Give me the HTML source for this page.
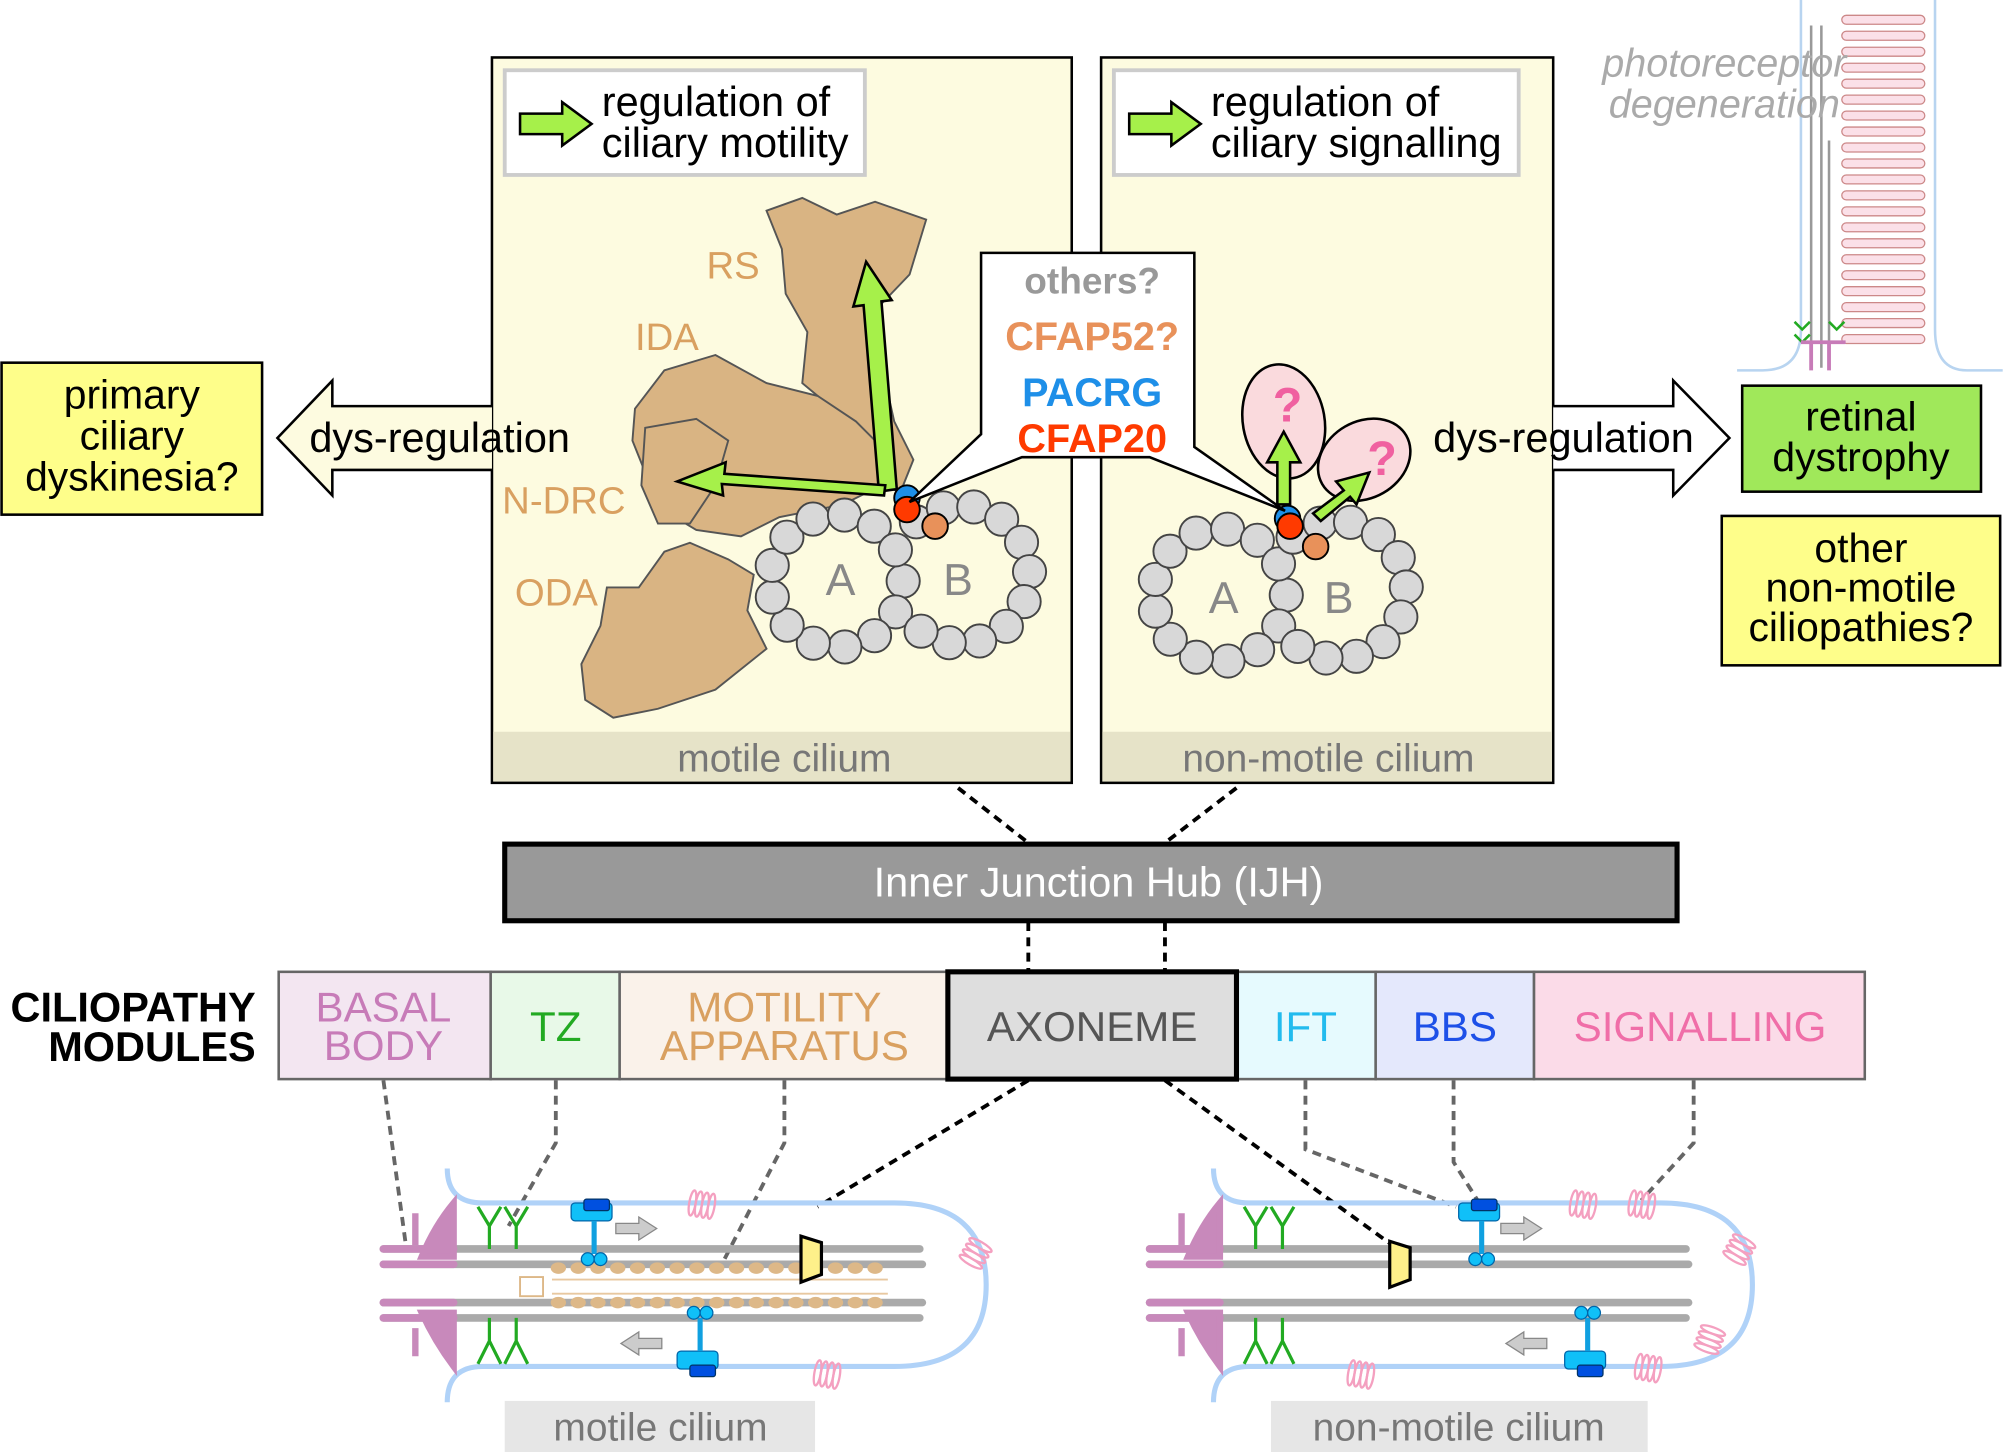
<!DOCTYPE html>
<html><head><meta charset="utf-8">
<style>
html,body{margin:0;padding:0;background:#fff;}
svg{display:block;font-family:"Liberation Sans",sans-serif;}
</style></head>
<body>
<svg id="s" width="2003" height="1452" viewBox="0 0 1568 1137" xmlns="http://www.w3.org/2000/svg">
<!-- photoreceptor -->
<g>
<path d="M1410,0 L1410,258 Q1410,290 1380,290 L1360,290 M1515,0 L1515,258 Q1515,290 1540,290 L1568,290" fill="none" stroke="#b8d4f0" stroke-width="2"/>
<g id="discs"></g>
<line x1="1418" y1="20" x2="1418" y2="288" stroke="#999" stroke-width="2"/>
<line x1="1426" y1="20" x2="1426" y2="288" stroke="#999" stroke-width="2"/>
<line x1="1432" y1="110" x2="1432" y2="288" stroke="#999" stroke-width="2"/>
<path d="M1405,252 l6,6 l6,-6 M1405,262 l6,6 l6,-6 M1432,252 l6,6 l6,-6" stroke="#2a2" stroke-width="2" fill="none"/>
<path d="M1410,268 L1445,268 M1418,268 L1418,290 M1432,268 L1432,290" stroke="#c77bb8" stroke-width="3"/>
<text x="1350" y="60" text-anchor="middle" font-size="31" font-style="italic" fill="#aaa">photoreceptor</text>
<text x="1350" y="92" text-anchor="middle" font-size="31" font-style="italic" fill="#aaa">degeneration</text>
</g>

<!-- left panel -->
<rect x="385" y="45" width="454" height="568" fill="#fdfbe0" stroke="#000" stroke-width="2"/>
<rect x="386" y="573" width="452" height="39" fill="#e6e3c8"/>
<text x="614" y="604" text-anchor="middle" font-size="30.5" fill="#777">motile cilium</text>
<rect x="395" y="55" width="282" height="82" fill="#fff" stroke="#ccc" stroke-width="3"/>
<path d="M407,89 L440,89 L440,80 L463,97 L440,114 L440,105 L407,105Z" fill="#a6f04a" stroke="#000" stroke-width="2"/>
<text x="471" y="91" font-size="32.5">regulation of</text>
<text x="471" y="123" font-size="32.5">ciliary motility</text>

<!-- right panel -->
<rect x="862" y="45" width="354" height="568" fill="#fdfbe0" stroke="#000" stroke-width="2"/>
<rect x="863" y="573" width="352" height="39" fill="#e6e3c8"/>
<text x="1040" y="604" text-anchor="middle" font-size="30.5" fill="#777">non-motile cilium</text>
<rect x="872" y="55" width="317" height="82" fill="#fff" stroke="#ccc" stroke-width="3"/>
<path d="M884,89 L917,89 L917,80 L940,97 L917,114 L917,105 L884,105Z" fill="#a6f04a" stroke="#000" stroke-width="2"/>
<text x="948" y="91" font-size="32.5">regulation of</text>
<text x="948" y="123" font-size="32.5">ciliary signalling</text>

<!-- dynein shapes -->
<g fill="#d9b483" stroke="#555" stroke-width="1.5">
<path d="M600,165 L628,155 L655,168 L685,158 L725,172 L712,215 L688,240 L690,285 L700,330 L715,360 L705,385 L680,378 L660,330 L640,310 L628,300 L632,260 L615,230 L612,195Z"/>
<path d="M497,320 L520,290 L560,278 L600,300 L640,310 L670,330 L690,350 L690,380 L660,395 L610,405 L580,420 L545,415 L520,400 L505,370 L495,345Z"/>
<path d="M505,335 L545,328 L570,345 L560,380 L540,410 L515,410 L502,380Z"/>
<path d="M520,432 L540,425 L570,438 L590,450 L585,478 L600,508 L560,540 L515,555 L480,562 L458,548 L455,520 L470,490 L475,460 L500,460Z"/>
</g>
<text x="553" y="218" font-size="30" fill="#d9a060">RS</text>
<text x="497" y="274" font-size="30" fill="#d9a060">IDA</text>
<text x="393" y="402" font-size="30" fill="#d9a060">N-DRC</text>
<text x="403" y="474" font-size="30" fill="#d9a060">ODA</text>

<g id="tubs"></g>
<text x="658" y="466" text-anchor="middle" font-size="35" fill="#888">A</text>
<text x="750" y="466" text-anchor="middle" font-size="35" fill="#888">B</text>
<text x="958" y="480" text-anchor="middle" font-size="35" fill="#888">A</text>
<text x="1048" y="480" text-anchor="middle" font-size="35" fill="#888">B</text>

<!-- green arrows left -->
<path d="M702,383 L690,236 L698,235 L678,205 L668,240 L676,239 L688,385Z" fill="#a6f04a" stroke="#000" stroke-width="2"/>
<path d="M692,388 L565,379 L566,388 L530,377 L568,362 L567,371 L693,380Z" fill="#a6f04a" stroke="#000" stroke-width="2"/>
<circle cx="710" cy="390" r="10" fill="#1e8fe8" stroke="#000" stroke-width="1.5"/>
<circle cx="710" cy="399" r="10" fill="#ff3a00" stroke="#000" stroke-width="1.5"/>
<circle cx="732" cy="412" r="10" fill="#e8915a" stroke="#000" stroke-width="1.5"/>

<!-- right pink -->
<ellipse cx="1005" cy="330" rx="32" ry="45" transform="rotate(-10 1005 330)" fill="#fadadd" stroke="#000" stroke-width="2"/>
<ellipse cx="1068" cy="360" rx="38" ry="30" transform="rotate(-30 1068 360)" fill="#fadadd" stroke="#000" stroke-width="2"/>
<text x="1008" y="330" text-anchor="middle" font-size="38" font-weight="bold" fill="#f060a0">?</text>
<text x="1082" y="372" text-anchor="middle" font-size="38" font-weight="bold" fill="#f060a0">?</text>
<path d="M1000,395 L1000,362 L992,362 L1005,338 L1018,362 L1010,362 L1010,395Z" fill="#a6f04a" stroke="#000" stroke-width="2"/>
<path d="M1028,402 L1052,384 L1046,377 L1072,370 L1062,395 L1057,389 L1034,408Z" fill="#a6f04a" stroke="#000" stroke-width="2"/>
<circle cx="1008" cy="406" r="10" fill="#1e8fe8" stroke="#000" stroke-width="1.5"/>
<circle cx="1010" cy="412" r="10" fill="#ff3a00" stroke="#000" stroke-width="1.5"/>
<circle cx="1030" cy="428" r="10" fill="#e8915a" stroke="#000" stroke-width="1.5"/>

<!-- callout -->
<polygon points="768,198 935,198 935,350 1006,400 900,358 800,358 712,393 768,340" fill="#fff" stroke="#000" stroke-width="2"/>
<text x="855" y="230" text-anchor="middle" font-size="29" font-weight="bold" fill="#999">others?</text>
<text x="855" y="274" text-anchor="middle" font-size="31" font-weight="bold" fill="#e8915a">CFAP52?</text>
<text x="855" y="318" text-anchor="middle" font-size="31" font-weight="bold" fill="#1e8fe8">PACRG</text>
<text x="855" y="354" text-anchor="middle" font-size="31" font-weight="bold" fill="#ff3a00">CFAP20</text>

<!-- hollow arrows -->
<path d="M385,318 L260,318 L260,298 L217,343 L260,388 L260,368 L385,368" fill="#fdfbe0" stroke="#000" stroke-width="2"/>
<text x="242" y="354" font-size="32.5">dys-regulation</text>
<path d="M1216,318 L1310,318 L1310,298 L1354,343 L1310,388 L1310,368 L1216,368" fill="#fff" stroke="#000" stroke-width="2"/>
<text x="1122" y="354" font-size="32.5">dys-regulation</text>

<rect x="1" y="284" width="204" height="119" fill="#fefe8a" stroke="#000" stroke-width="2"/>
<text x="103" y="320" text-anchor="middle" font-size="32">primary</text>
<text x="103" y="352" text-anchor="middle" font-size="32">ciliary</text>
<text x="103" y="384" text-anchor="middle" font-size="32">dyskinesia?</text>
<rect x="1364" y="302" width="187" height="83" fill="#a0e85a" stroke="#000" stroke-width="2"/>
<text x="1457" y="337" text-anchor="middle" font-size="32">retinal</text>
<text x="1457" y="369" text-anchor="middle" font-size="32">dystrophy</text>
<rect x="1348" y="404" width="218" height="117" fill="#fefe8a" stroke="#000" stroke-width="2"/>
<text x="1457" y="440" text-anchor="middle" font-size="32">other</text>
<text x="1457" y="471" text-anchor="middle" font-size="32">non-motile</text>
<text x="1457" y="502" text-anchor="middle" font-size="32">ciliopathies?</text>

<!-- IJH -->
<g stroke="#000" stroke-width="3" stroke-dasharray="7,5" fill="none">
<path d="M750,617 L805,660"/><path d="M968,617 L912,660"/>
<path d="M805,722 L805,761"/><path d="M912,722 L912,761"/>
<path d="M805,846 L640,945"/><path d="M912,846 L1090,975"/>
</g>
<rect x="395" y="661" width="918" height="60" fill="#999" stroke="#000" stroke-width="4"/>
<text x="860" y="702" text-anchor="middle" font-size="32.5" fill="#fff">Inner Junction Hub (IJH)</text>

<text x="200" y="800" text-anchor="end" font-size="32.5" font-weight="bold">CILIOPATHY</text>
<text x="200" y="831" text-anchor="end" font-size="32.5" font-weight="bold">MODULES</text>

<g stroke="#666" stroke-width="2">
<rect x="218" y="761" width="166" height="84" fill="#f3e6f1"/>
<rect x="384" y="761" width="101" height="84" fill="#e8f9e8"/>
<rect x="485" y="761" width="257" height="84" fill="#faf2ea"/>
<rect x="968" y="761" width="109" height="84" fill="#e6fafe"/>
<rect x="1077" y="761" width="124" height="84" fill="#e4e8fc"/>
<rect x="1201" y="761" width="259" height="84" fill="#fbdbe8"/>
</g>
<rect x="742" y="761" width="226" height="84" fill="#dedede" stroke="#000" stroke-width="4"/>
<g font-size="33" text-anchor="middle">
<text x="300" y="800" fill="#c77bb8">BASAL</text><text x="300" y="830" fill="#c77bb8">BODY</text>
<text x="435" y="815" fill="#22aa22">TZ</text>
<text x="614" y="800" fill="#d9a060">MOTILITY</text><text x="614" y="830" fill="#d9a060">APPARATUS</text>
<text x="855" y="815" fill="#555">AXONEME</text>
<text x="1022" y="815" fill="#22bbee">IFT</text>
<text x="1139" y="815" fill="#1e50e8">BBS</text>
<text x="1331" y="815" fill="#f06ea8">SIGNALLING</text>
</g>

<!-- gray dashed module connectors -->
<g stroke="#666" stroke-width="3" stroke-dasharray="7,5" fill="none">
<path d="M300,846 L318,978"/><path d="M435,846 L435,895 L398,960"/>
<path d="M614,846 L614,895 L565,990"/>
<path d="M1022,846 L1022,900 L1140,945"/><path d="M1138,846 L1138,910 L1160,945"/>
<path d="M1326,846 L1326,895 L1285,940"/>
</g>

<!-- cilia -->
<g id="cil"></g>

<rect x="395" y="1097" width="243" height="40" fill="#e6e6e6"/>
<text x="517" y="1128" text-anchor="middle" font-size="30.5" fill="#777">motile cilium</text>
<rect x="995" y="1097" width="295" height="40" fill="#e6e6e6"/>
<text x="1142" y="1128" text-anchor="middle" font-size="30.5" fill="#777">non-motile cilium</text>
</svg>
<script>
var NS="http://www.w3.org/2000/svg";
function el(p,t,a){var e=document.createElementNS(NS,t);for(var k in a)e.setAttribute(k,a[k]);p.appendChild(e);return e;}
var d=document.getElementById('discs');
for(var y=12;y<=262;y+=12.5){el(d,'rect',{x:1442,y:y,width:65,height:7,rx:3.5,fill:'#fbe0e8',stroke:'#c88',"stroke-width":1});}
var t=document.getElementById('tubs');
function ring(cx,cy,R,n,a0,a1){for(var i=0;i<n;i++){var a=(a0+(a1-a0)*i/(n-1))*Math.PI/180;el(t,'circle',{cx:cx+R*Math.cos(a),cy:cy+R*Math.sin(a),r:13,fill:'#d8d8d8',stroke:'#444',"stroke-width":1.5});}}
function doublet(ax,ay,bx,by){ring(ax,ay,52,13,0,332);ring(bx,by,54,11,-130,125);}
doublet(655,455,752,450);doublet(955,466,1047,462);
var c=document.getElementById('cil');
function cilium(ox,motile){
 el(c,'path',{d:'M'+(ox+350)+',915 Q'+(ox+350)+',942 '+(ox+378)+',942 L'+(ox+700)+',942 Q'+(ox+772)+',942 '+(ox+772)+',1006 Q'+(ox+772)+',1070 '+(ox+700)+',1070 L'+(ox+378)+',1070 Q'+(ox+350)+',1070 '+(ox+350)+',1098',fill:'none',stroke:'#b0d2f8','stroke-width':4});
 [[978,720],[990,722],[1020,722],[1032,720]].forEach(function(p){el(c,'line',{x1:ox+300,y1:p[0],x2:ox+p[1],y2:p[0],stroke:'#aaa','stroke-width':6,'stroke-linecap':'round'});
  el(c,'line',{x1:ox+300,y1:p[0],x2:ox+355,y2:p[0],stroke:'#c889bb','stroke-width':6,'stroke-linecap':'round'});});
 el(c,'path',{d:'M'+(ox+355)+',942 L'+(ox+355)+',984 L'+(ox+330)+',984 Q'+(ox+340)+',960 '+(ox+355)+',942Z M'+(ox+325)+',950 L'+(ox+325)+',975 M'+(ox+355)+',1070 L'+(ox+355)+',1028 L'+(ox+330)+',1028 Q'+(ox+340)+',1050 '+(ox+355)+',1070Z M'+(ox+325)+',1040 L'+(ox+325)+',1062',fill:'#c889bb',stroke:'#c889bb','stroke-width':5});
 [ox+383,ox+404].forEach(function(x){el(c,'path',{d:'M'+(x-9)+',945 L'+x+',960 L'+(x+9)+',945 M'+x+',960 L'+x+',978 M'+(x-9)+',1068 L'+x+',1050 L'+(x+9)+',1068 M'+x+',1050 L'+x+',1032',fill:'none',stroke:'#22aa22','stroke-width':2.5});});
 if(motile){
  for(var x=437;x<=690;x+=15.5){el(c,'ellipse',{cx:ox+x,cy:993,rx:6,ry:4.5,fill:'#ddb888'});el(c,'ellipse',{cx:ox+x,cy:1020,rx:6,ry:4.5,fill:'#ddb888'});}
  el(c,'line',{x1:ox+432,y1:1002,x2:ox+695,y2:1002,stroke:'#e8c8a0','stroke-width':1.5});
  el(c,'line',{x1:ox+432,y1:1013,x2:ox+695,y2:1013,stroke:'#e8c8a0','stroke-width':1.5});
  el(c,'rect',{x:ox+407,y:1000,width:18,height:15,fill:'#fff',stroke:'#ddb888','stroke-width':1.5});
 }
}
cilium(0,true);cilium(600,false);
function ift(x,y,up){
 el(c,'rect',{x:x-18,y:y,width:32,height:14,rx:3,fill:'#10c0f8',stroke:'#06a','stroke-width':1});
 el(c,'rect',{x:x-8,y:y+(up?-3:11),width:20,height:9,rx:2,fill:'#0050e0',stroke:'#036','stroke-width':1});
 el(c,'line',{x1:x,y1:y+(up?14:0),x2:x,y2:y+(up?40:-26),stroke:'#10a0e0','stroke-width':4});
 el(c,'circle',{cx:x-5,cy:y+(up?44:-30),r:5,fill:'#10c0f8',stroke:'#06a'});el(c,'circle',{cx:x+5,cy:y+(up?44:-30),r:5,fill:'#10c0f8',stroke:'#06a'});}
ift(465,942,true);ift(548,1058,false);ift(1160,942,true);ift(1243,1058,false);
function garrow(x,y,r){var d=r?'M'+x+','+(y-4)+' l18,0 l0,-5 l14,9 l-14,9 l0,-5 l-18,0Z':'M'+x+','+(y-4)+' l-18,0 l0,-5 l-14,9 l14,9 l0,-5 l18,0Z';el(c,'path',{d:d,fill:'#ccc',stroke:'#888','stroke-width':1});}
garrow(482,962,true);garrow(518,1052,false);garrow(1175,962,true);garrow(1211,1052,false);
function trap(x,y){el(c,'path',{d:'M'+x+','+y+' l16,5 l0,25 l-16,6Z',fill:'#fef08a',stroke:'#000','stroke-width':2.5});}
trap(627,968);trap(1088,972);
function sq(x,y,rot){var g=el(c,'g',{transform:'rotate('+rot+' '+x+' '+y+')'});for(var i=0;i<4;i++){el(g,'ellipse',{cx:x+i*5,cy:y,rx:2.5,ry:10,fill:'none',stroke:'#f4a0c0','stroke-width':1.8});}}
sq(542,942,10);sq(760,988,-60);sq(640,1075,10);sq(1232,942,10);sq(1278,942,10);sq(1358,985,-60);sq(1336,1056,-70);sq(1058,1075,10);sq(1283,1070,10);
</script>
</body></html>
